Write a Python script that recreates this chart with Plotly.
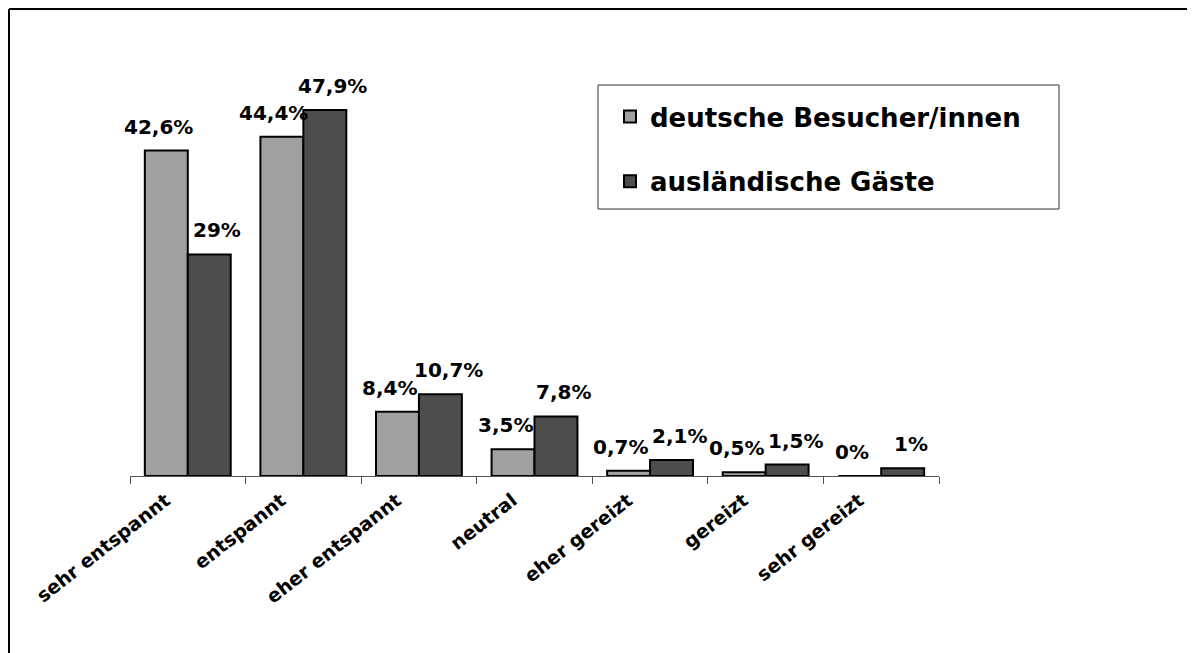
import plotly.graph_objects as go

categories = ["sehr entspannt", "entspannt", "eher entspannt", "neutral",
              "eher gereizt", "gereizt", "sehr gereizt"]
deutsche = [42.6, 44.4, 8.4, 3.5, 0.7, 0.5, 0.0]
auslaendische = [29.0, 47.9, 10.7, 7.8, 2.1, 1.5, 1.0]
series_names = ["deutsche Besucher/innen", "ausländische Gäste"]
colors = ["#A0A0A0", "#4D4D4D"]

W, H = 1195, 653
PAGE_OFF = 8  # browser body margin
ML, MR, MT, MB = 122, 264, 72, 185
YMAX = 51.83
BARGAP = 0.257

FONT = "DejaVu Sans"


def fmt(v):
    s = f"{v:.1f}"
    if s.endswith(".0"):
        s = s[:-2]
    return s.replace(".", ",") + "%"


fig = go.Figure()
for name, vals, col in zip(series_names, [deutsche, auslaendische], colors):
    fig.add_trace(go.Bar(
        x=categories, y=vals, name=name, legendgroup=name,
        marker=dict(color=col, line=dict(color="black", width=2)),
        hoverinfo="skip",
    ))

# data labels
off = (1 - BARGAP) / 4
annotations = []
for s, vals in enumerate([deutsche, auslaendische]):
    for i, v in enumerate(vals):
        annotations.append(dict(
            x=i + (-off if s == 0 else off), y=v, xref="x", yref="y",
            text=fmt(v), showarrow=False, yanchor="bottom", xanchor="center",
            yshift=10, xshift=(-8 if s == 0 else 8),
            font=dict(family=FONT, size=20, color="black", weight="bold"),
        ))

pw = W - ML - MR
ph = H - MT - MB


def px_x(p):
    return (p - PAGE_OFF - ML) / pw


def px_y(p):
    return (H - MB - (p - PAGE_OFF)) / ph


shapes = [
    dict(type="line", xref="paper", yref="paper", x0=px_x(9), x1=px_x(1210),
         y0=px_y(9), y1=px_y(9), line=dict(color="black", width=2)),
    dict(type="line", xref="paper", yref="paper", x0=px_x(9), x1=px_x(9),
         y0=px_y(9), y1=px_y(680), line=dict(color="black", width=2)),
    dict(type="rect", xref="paper", yref="paper", x0=px_x(598), x1=px_x(1059),
         y0=px_y(85), y1=px_y(209), line=dict(color="#333333", width=1),
         fillcolor="rgba(0,0,0,0)", layer="below"),
]

fig.update_layout(
    width=W, height=H,
    margin=dict(l=ML, r=MR, t=MT, b=MB, autoexpand=False),
    paper_bgcolor="white", plot_bgcolor="white",
    barmode="group", bargap=BARGAP, bargroupgap=0,
    showlegend=True,
    legend=dict(
        x=px_x(610), y=px_y(93), xanchor="left", yanchor="top",
        borderwidth=0, bgcolor="rgba(0,0,0,0)",
        font=dict(family=FONT, size=26, color="black", weight="bold"),
        traceorder="grouped", tracegroupgap=28,
        itemclick=False, itemdoubleclick=False,
    ),
    xaxis=dict(
        type="category", range=[-0.5, 6.5],
        showline=True, linecolor="#555555", linewidth=1,
        ticks="outside", tickson="boundaries", ticklen=7, tickcolor="#555555",
        tickangle=-38, showgrid=False, zeroline=False,
        ticklabelshift=-22, ticklabelstandoff=5,
        tickfont=dict(family=FONT, size=19, color="black", weight="bold"),
    ),
    yaxis=dict(range=[0, YMAX], visible=False, showgrid=False, zeroline=False),
    annotations=annotations,
    shapes=shapes,
)

fig.write_html("out.html")
